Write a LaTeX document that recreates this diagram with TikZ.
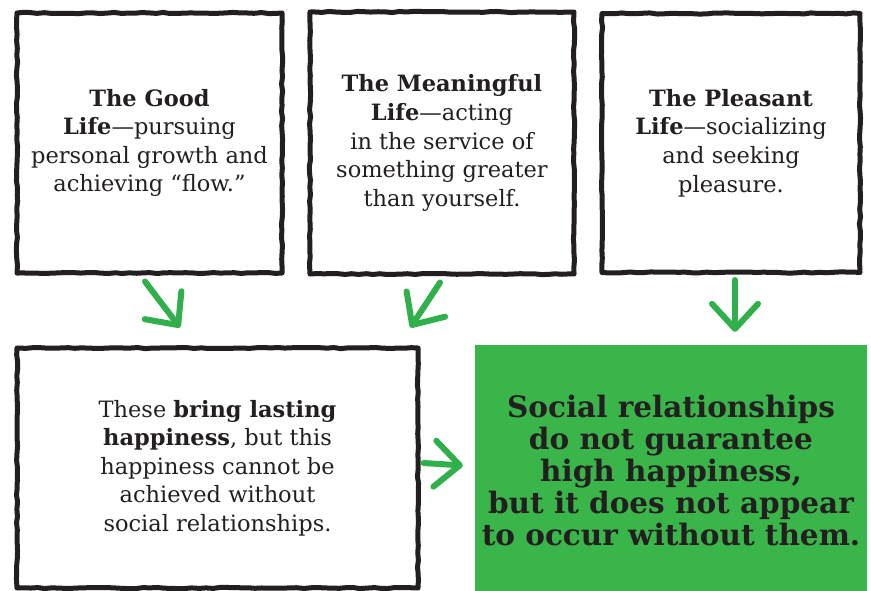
\documentclass[tikz,border=0pt]{standalone}
\usepackage{fontspec}
\setmainfont{DejaVu Serif}
\usepackage{tikz}
\usetikzlibrary{shapes,shapes.misc,shapes.geometric}
\usetikzlibrary{positioning,fit,backgrounds}
\usetikzlibrary{arrows.meta,decorations.pathmorphing}

\definecolor{inkblack}{HTML}{231F20}
\definecolor{leafgreen}{HTML}{3AB54A}
\definecolor{arrowgreen}{HTML}{2FB04A}

\tikzset{
  sketchbox/.style={draw=inkblack, line width=5pt, line join=round,
    decorate, decoration={random steps, segment length=7pt, amplitude=0.6pt},
    align=center, text=inkblack, font=\fontsize{22.5}{28.6}\selectfont},
  greenbox/.style={fill=leafgreen, draw=none, align=center, text=inkblack,
    font=\fontsize{29.5}{32}\selectfont\bfseries},
  greenarrow/.style={draw=arrowgreen, line width=6pt, line cap=round,
    -{Straight Barb[length=25pt, width=46pt, round]}}
}

\begin{document}
\begin{tikzpicture}[x=1pt,y=-1pt]
\pgfmathsetseed{11}
\useasboundingbox (0,0) rectangle (871,590);
\fill[white] (0,0) rectangle (871,590);

% three kinds of life
\draw(149.5,143) node[sketchbox, minimum width=265pt, minimum height=260pt] (good)
  {\textbf{The Good}\\ \textbf{Life}---pursuing\\ personal growth and\\ achieving “flow.”};
\draw(442,143) node[sketchbox, minimum width=264pt, minimum height=262pt] (mean)
  {\textbf{The Meaningful}\\ \textbf{Life}---acting\\ in the service of\\ something greater\\ than yourself.};
\draw(731,143) node[sketchbox, minimum width=258pt, minimum height=259pt] (pleas)
  {\textbf{The Pleasant}\\ \textbf{Life}---socializing\\ and seeking\\ pleasure.};

% lower row
\draw(217.5,468) node[sketchbox, minimum width=401pt, minimum height=240pt] (base)
  {These \textbf{bring lasting}\\ \textbf{happiness}, but this\\ happiness cannot be\\ achieved without\\ social relationships.};
\draw(671,470) node[greenbox, minimum width=392pt, minimum height=250pt] (concl)
  {Social relationships\\ do not guarantee\\ high happiness,\\ but it does not appear\\ to occur without them.};

% arrows
\draw[greenarrow] ([xshift=-4.5pt,yshift=-6pt]good.south) -- ([xshift=-37.5pt,yshift=18pt]base.north);
\draw[greenarrow] ([xshift=-2pt,yshift=-6pt]mean.south) -- ([xshift=-10pt,yshift=18pt]base.north east);
\draw[greenarrow] ([xshift=4pt,yshift=-5pt]pleas.south) -- ([xshift=64pt,yshift=13pt]concl.north);
\draw[greenarrow] ([xshift=3pt,yshift=5pt]base.east) -- ([xshift=-12pt,yshift=4.5pt]concl.west);
\end{tikzpicture}
\end{document}
